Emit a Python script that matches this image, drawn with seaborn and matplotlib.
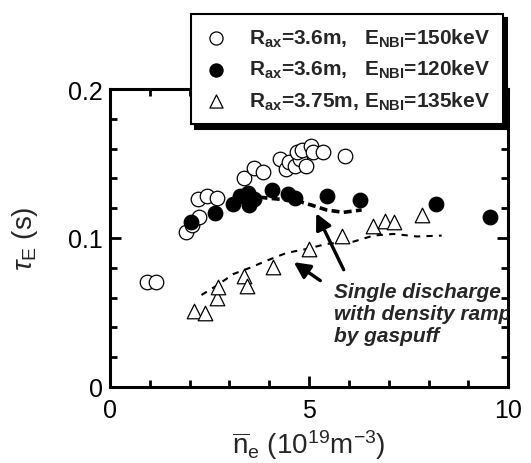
import numpy as np
import pandas as pd
import seaborn as sns
import matplotlib
matplotlib.use("Agg")
import matplotlib.pyplot as plt
from matplotlib.ticker import MultipleLocator

# open circles: R=3.6m, E=150keV
ne_150 = [0.92, 1.16, 1.91, 2.05, 2.24, 2.20, 2.45, 2.68, 3.37, 3.62, 3.85, 4.27, 4.41,
          4.50, 4.65, 4.77, 4.92, 4.69, 4.83, 5.04, 5.11, 5.36, 5.90]
tau_150 = [0.0707, 0.0707, 0.104, 0.109, 0.114, 0.126, 0.128, 0.127, 0.140, 0.147, 0.144,
           0.153, 0.146, 0.151, 0.148, 0.153, 0.148, 0.158, 0.159, 0.1615, 0.1575, 0.1575, 0.155]
# filled circles: R=3.6m, E=120keV
ne_120 = [2.03, 2.64, 3.08, 3.27, 3.47, 3.49, 3.63, 4.08, 4.48, 4.65, 5.44, 6.28, 8.19, 9.55]
tau_120 = [0.1105, 0.1165, 0.123, 0.128, 0.130, 0.122, 0.126, 0.1325, 0.1295, 0.127,
           0.128, 0.1255, 0.123, 0.114]
# triangles: R=3.75m, E=135keV
ne_135 = [2.12, 2.40, 2.68, 2.71, 3.37, 3.43, 4.10, 5.01, 5.82, 6.60, 6.91, 7.14, 7.83]
tau_135 = [0.0508, 0.0494, 0.0595, 0.0673, 0.0747, 0.0675, 0.0807, 0.0926, 0.101,
           0.108, 0.1116, 0.111, 0.1154]

# single discharge density ramps
ramp1_ne = [3.45, 3.68, 3.94, 4.27, 4.69, 5.07, 5.44, 5.86, 6.32]
ramp1_tau = [0.128, 0.1277, 0.1268, 0.126, 0.125, 0.122, 0.1188, 0.1172, 0.1188]
ramp2_ne = [2.30, 2.68, 3.10, 3.52, 3.94, 4.44, 4.94, 5.44, 6.11, 6.62, 7.12, 7.71, 8.33]
ramp2_tau = [0.0617, 0.068, 0.0758, 0.080, 0.0848, 0.090, 0.0926, 0.096, 0.0975,
             0.1016, 0.1027, 0.101, 0.1016]

labels = [r"R$_\mathbf{ax}$=3.6m,   E$_\mathbf{NBI}$=150keV",
          r"R$_\mathbf{ax}$=3.6m,   E$_\mathbf{NBI}$=120keV",
          r"R$_\mathbf{ax}$=3.75m, E$_\mathbf{NBI}$=135keV"]

sns.set_style("ticks")
plt.rcParams['font.family'] = ['Liberation Sans', 'DejaVu Sans']
plt.rcParams['mathtext.fontset'] = 'custom'
plt.rcParams['mathtext.rm'] = 'Liberation Sans'
plt.rcParams['mathtext.it'] = 'Liberation Sans:italic'
plt.rcParams['mathtext.bf'] = 'Liberation Sans:bold'

fig = plt.figure(figsize=(5.31, 4.64), dpi=100)
ax = fig.add_axes([0.207, 0.164, 0.75, 0.642])

sns.lineplot(x=ramp1_ne, y=ramp1_tau, ax=ax, color='k', lw=2.6, linestyle=(0, (2.2, 1.2)), sort=False)
sns.lineplot(x=ramp2_ne, y=ramp2_tau, ax=ax, color='k', lw=1.5, linestyle=(0, (3, 3)), sort=False)

sns.scatterplot(x=ne_150, y=tau_150, ax=ax, marker='o', s=110, facecolor='white',
                edgecolor='k', linewidth=0.9, label=labels[0], zorder=3)
sns.scatterplot(x=ne_120, y=tau_120, ax=ax, marker='o', s=110, color='k',
                edgecolor='k', linewidth=0.9, label=labels[1], zorder=4)
sns.scatterplot(x=ne_135, y=tau_135, ax=ax, marker='^', s=110, facecolor='white',
                edgecolor='k', linewidth=0.9, label=labels[2], zorder=3)

ax.set_xlim(0, 10)
ax.set_ylim(0, 0.2)
ax.xaxis.set_minor_locator(MultipleLocator(1))
ax.yaxis.set_minor_locator(MultipleLocator(0.02))
ax.set_xticks([0, 5, 10])
ax.set_xticklabels(['0', '5', '10'])
ax.set_yticks([0, 0.1, 0.2])
ax.set_yticklabels(['0', '0.1', '0.2'])
ax.tick_params(which='both', direction='in', top=True, right=True, width=2, labelsize=18, colors='k')
ax.tick_params(which='major', length=8)
ax.tick_params(which='minor', length=5)
ax.tick_params(axis='x', which='major', pad=8)
ax.tick_params(axis='y', which='major', pad=5)
for sp in ax.spines.values():
    sp.set_linewidth(2.2)
    sp.set_color('k')

ax.set_xlabel(r"$\overline{\mathrm{n}}_\mathrm{e}$ (10$^{19}$m$^{-3}$)", fontsize=20, labelpad=4)
ax.set_ylabel(r"$\tau_\mathrm{E}$ (s)", fontsize=20, labelpad=20)

ax.annotate("", xy=(5.15, 0.1183), xytext=(5.90, 0.077),
            arrowprops=dict(arrowstyle='-|>', color='k', lw=2.4, mutation_scale=24))
ax.annotate("", xy=(4.56, 0.0848), xytext=(5.34, 0.0703),
            arrowprops=dict(arrowstyle='-|>', color='k', lw=2.4, mutation_scale=24))
ax.text(5.62, 0.0705, "Single discharge\nwith density ramp\nby gaspuff", fontsize=15,
        fontweight='bold', fontstyle='italic', va='top', ha='left', linespacing=1.2, clip_on=True)

leg = ax.legend(loc='upper right', bbox_to_anchor=(0.947, 0.968), bbox_transform=fig.transFigure,
                frameon=True, fancybox=False, edgecolor='k', framealpha=1,
                shadow={'ox': 3, 'oy': -3, 'color': 'k', 'alpha': 1},
                prop={'weight': 'bold', 'size': 15}, handletextpad=1.0, borderpad=0.6,
                labelspacing=0.45, handlelength=1.2, markerscale=0.9, borderaxespad=0)
leg.get_frame().set_linewidth(1.5)
leg.set_zorder(10)

fig.savefig("out.png", dpi=100)
